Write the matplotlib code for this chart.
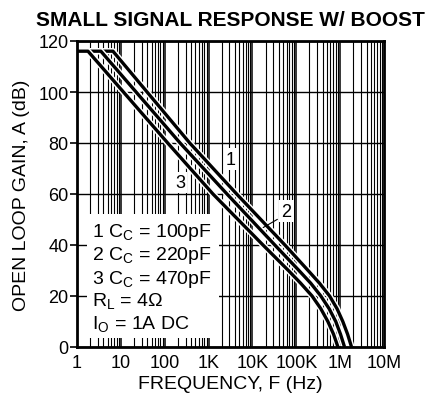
import matplotlib
matplotlib.use("Agg")
import matplotlib.pyplot as plt
import matplotlib.patheffects as pe
from matplotlib.patches import Rectangle

plt.rcParams['font.family'] = ['Liberation Sans', 'DejaVu Sans']
plt.rcParams['mathtext.fontset'] = 'custom'
plt.rcParams['mathtext.rm'] = 'Liberation Sans'

# curve data (Hz, dB)
gain = [116, 116, 80, 60, 40, 30, 25, 20, 15, 10, 5, 0]
f1 = [1, 6.6, 372, 4370, 55000, 186000, 339000, 575000, 851000, 1150000, 1480000, 1820000]
f2 = [1, 3.5, 224, 2630, 32400, 115000, 214000, 363000, 562000, 794000, 1020000, 1260000]
f3 = [1, 1.78, 117, 1260, 17400, 66100, 126000, 229000, 363000, 525000, 708000, 891000]

xticks = [1, 10, 100, 1e3, 1e4, 1e5, 1e6, 1e7]
xlabels = ['1', '10', '100', '1K', '10K', '100K', '1M', '10M']
yticks = [0, 20, 40, 60, 80, 100, 120]

legend_lines = ['1 C$_\\mathregular{C}$ = 100pF',
                '2 C$_\\mathregular{C}$ = 220pF',
                '3 C$_\\mathregular{C}$ = 470pF',
                'R$_\\mathregular{L}$ = 4\u03a9',
                'I$_\\mathregular{O}$ = 1A DC']
legend_y = [43.5, 34.5, 25.1, 16.1, 7.1]

fig = plt.figure(figsize=(4.31, 4.02), dpi=100)
ax = fig.add_axes([77/431, 1-348/402, 307/431, 306/402])
ax.set_xscale('log')
ax.set_xlim(1, 1e7)
ax.set_ylim(0, 120)

# grid
for d in range(7):
    for m in range(1, 10):
        ax.axvline(m * 10**d, color='black', lw=1.1 if m == 1 else 0.8, zorder=1)
for y in yticks:
    ax.axhline(y, color='black', lw=1.0, zorder=1)

# white area behind the conditions text
ax.add_patch(Rectangle((0.032, 0.03), 0.43, 0.405, transform=ax.transAxes,
                       facecolor='white', edgecolor='none', zorder=2))

halo = [pe.Stroke(linewidth=4.5, foreground='white'), pe.Normal()]
for f in [f1, f2, f3]:
    ax.plot(f, gain, color='black', lw=2.4, zorder=4, path_effects=halo,
            solid_capstyle='butt', solid_joinstyle='round')

box = dict(facecolor='white', edgecolor='none', pad=1.5)
ax.text(3236, 73.7, '1', fontsize=13, ha='center', va='center', bbox=box, zorder=5)
ax.text(222, 64.5, '3', fontsize=13, ha='center', va='center', bbox=box, zorder=5)
ax.text(60000, 53.3, '2', fontsize=13, ha='center', va='center', bbox=box, zorder=5)
ax.annotate('', xy=(15500, 46.3), xytext=(42000, 50.6),
            arrowprops=dict(arrowstyle='-', color='black', lw=0.8), zorder=5)

for txt, yy in zip(legend_lines, legend_y):
    ax.text(2.2, yy, txt, fontsize=14, va='baseline', ha='left', zorder=5)

ax.set_xticks(xticks)
ax.set_xticklabels(xlabels)
ax.set_xticks([], minor=True)
ax.set_yticks(yticks)
ax.tick_params(axis='x', length=0, labelsize=13, pad=5)
ax.tick_params(axis='y', length=5, width=1.2, direction='out', labelsize=13, pad=1)
for s in ax.spines.values():
    s.set_linewidth(2)
    s.set_zorder(6)

ax.set_xlabel('FREQUENCY, F (Hz)', fontsize=14, labelpad=3)
ax.set_ylabel('OPEN LOOP GAIN, A (dB)', fontsize=14, labelpad=6)
fig.text(0.534, 0.949, 'SMALL SIGNAL RESPONSE W/ BOOST', ha='center',
         va='center', fontsize=15, fontweight='bold')

fig.savefig('out.png', dpi=100)
